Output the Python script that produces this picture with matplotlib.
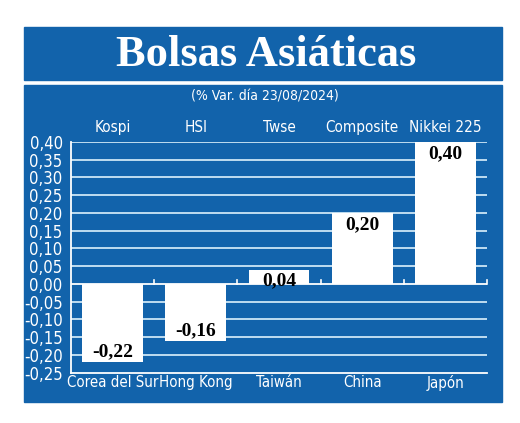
import matplotlib.pyplot as plt
from matplotlib.patches import Rectangle
from matplotlib import font_manager as fm

# Data
indices = ['Kospi', 'HSI', 'Twse', 'Composite', 'Nikkei 225']
countries = ['Corea del Sur', 'Hong Kong', 'Taiwán', 'China', 'Japón']
values = [-0.22, -0.16, 0.04, 0.20, 0.40]
yticks = [-0.25, -0.20, -0.15, -0.10, -0.05, 0.00, 0.05, 0.10, 0.15, 0.20, 0.25, 0.30, 0.35, 0.40]

blue = '#1263ab'
grid_col = '#cde6f6'

names = {f.name for f in fm.fontManager.ttflist}
cond = 'Liberation Sans Narrow' if 'Liberation Sans Narrow' in names else 'DejaVu Sans'

fig = plt.figure(figsize=(5.2, 4.23), dpi=100)
W, H = 520, 423

def box(x0, y0, x1, y1):
    fig.patches.append(Rectangle((x0 / W, 1 - y1 / H), (x1 - x0) / W, (y1 - y0) / H,
                                 transform=fig.transFigure, color=blue, zorder=-5))

box(24, 27, 502, 80)
box(24, 85, 502, 402)

fig.text(266 / W, 1 - 55 / H, 'Bolsas Asiáticas', color='white', fontsize=32,
         fontweight='bold', family='Liberation Serif', ha='center', va='center')
fig.text(265 / W, 1 - 97 / H, '(% Var. día 23/08/2024)', color='white', fontsize=10,
         family=cond, fontstretch='condensed', ha='center', va='center')

ax = fig.add_axes([71 / W, 1 - 372.7 / H, 416 / W, 230.7 / H])
ax.set_zorder(2)
ax.patch.set_alpha(0)

x = range(len(values))
ax.set_xlim(-0.5, len(values) - 0.5)
ax.set_ylim(-0.25, 0.40)
for v in yticks:
    if v != 0 and v != -0.25:
        ax.axhline(v, color=grid_col, lw=1.3, zorder=1)
ax.axhline(0, color='white', lw=1.3, zorder=1)

ax.bar(x, values, width=0.73, color='white', zorder=2)

for i, v in enumerate(values):
    lab = f'{v:.2f}'.replace('.', ',')
    if v >= 0:
        ax.annotate(lab, (i, v), xytext=(0, -2), textcoords='offset points', ha='center',
                    va='top', fontsize=14, fontweight='bold', family='Liberation Serif', zorder=3)
    else:
        ax.annotate(lab, (i, v), xytext=(0, 1), textcoords='offset points', ha='center',
                    va='bottom', fontsize=14, fontweight='bold', family='Liberation Serif', zorder=3)

# boundary ticks on the zero line
for b in [0.5, 1.5, 2.5, 3.5, 4.5]:
    ax.plot([b, b], [0, 0.012], color='white', lw=1.2, zorder=1, clip_on=False)

ax.set_yticks(yticks)
ax.set_yticklabels([f'{v:.2f}'.replace('.', ',') for v in yticks], color='white',
                   fontsize=12, family=cond, fontstretch='condensed')
ax.tick_params(axis='y', length=0, pad=6)
ax.set_xticks(list(x))
ax.set_xticklabels(countries, color='white', fontsize=10.8, family=cond, fontstretch='condensed')
ax.tick_params(axis='x', length=0, pad=2)

for i, name in enumerate(indices):
    ax.text(i, 1.03, name, transform=ax.get_xaxis_transform(), color='white',
            fontsize=11, family=cond, fontstretch='condensed', ha='center', va='bottom')

for s in ['top', 'right']:
    ax.spines[s].set_visible(False)
for s in ['left', 'bottom']:
    ax.spines[s].set_color('white')
    ax.spines[s].set_linewidth(1.3)

fig.savefig('out.png', dpi=100)
